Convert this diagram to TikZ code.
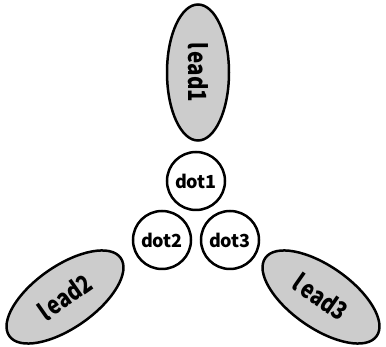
\documentclass[tikz,border=0pt]{standalone}
\usepackage{fontspec}
\setmainfont{Noto Sans CJK JP}
\newfontfamily\leadfont[FakeStretch=0.82]{Noto Sans CJK JP}
\usetikzlibrary{shapes.geometric}
\tikzset{
  leadshape/.style={ellipse, draw, line width=2.5pt, fill=black!20,
    minimum width=136pt, minimum height=62pt, inner sep=0pt,
    font=\leadfont\bfseries\fontsize{25}{28}\selectfont},
  dotshape/.style={circle, draw, line width=2.5pt, fill=white,
    minimum size=58pt, inner sep=0pt,
    font=\bfseries\fontsize{18}{20}\selectfont}
}
\begin{document}
\begin{tikzpicture}[x=1pt, y=-1pt]
  \useasboundingbox (0,0) rectangle (386,347);
  % three leads
  \node[leadshape, rotate=-90] (lead1) at (198,72.5) {l\kern2.5pt ead1};
  \node[leadshape, rotate=35]  (lead2) at (65,297)   {l\kern2.5pt ead2};
  \node[leadshape, rotate=-35] (lead3) at (321,297)  {l\kern2.5pt ead3};
  % three dots
  \node[dotshape] (dot1) at (196,181) {dot1};
  \node[dotshape] (dot2) at (162,240) {dot2};
  \node[dotshape] (dot3) at (230,240) {dot3};
\end{tikzpicture}
\end{document}
